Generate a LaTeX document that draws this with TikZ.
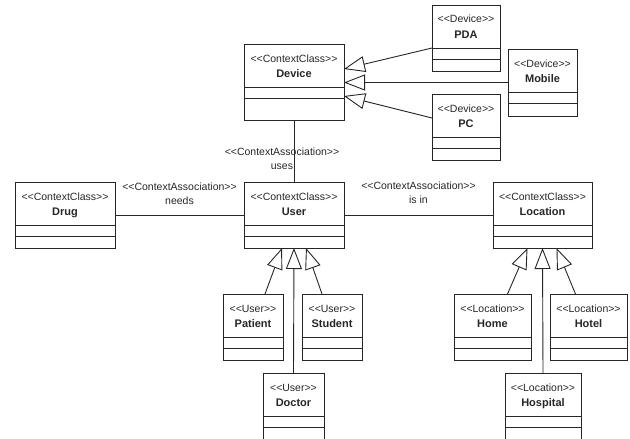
\documentclass[tikz,border=0pt]{standalone}
\usepackage{fontspec}
\setmainfont{Liberation Sans}
\usetikzlibrary{arrows.meta}

\newcommand{\st}[1]{<{}<#1>{}>}
\newcommand{\umlclass}[6]{%
\node[classbox, minimum width=#3, minimum height=#4, anchor=north west] (#1) at #2 {};
\node[stereo, anchor=base] at ([yshift=-18pt]#1.north) {\st{#5}};
\node[clsname, anchor=base] at ([yshift=-33pt]#1.north) {#6};
\draw ([yshift=-43pt]#1.north west) -- ([yshift=-43pt]#1.north east);
\draw ([yshift=-54pt]#1.north west) -- ([yshift=-54pt]#1.north east);
}

\begin{document}
\begin{tikzpicture}[x=1pt, y=-1pt, line width=0.9pt, color=black!85,
  classbox/.style={draw, rectangle, inner sep=0pt, outer sep=0pt},
  stereo/.style={font=\fontsize{10.5}{12}\selectfont, inner sep=0pt},
  clsname/.style={font=\fontsize{11}{13}\selectfont\bfseries, inner sep=0pt},
  gen/.style={-{Triangle[open,length=21pt,width=16pt]}},
  assoc/.style={font=\fontsize{10.5}{14}\selectfont, align=center, inner sep=0pt}]
\useasboundingbox (0,0) rectangle (630,439);
\clip (0,0) rectangle (630,439);

\umlclass{device}{(244,44)}{100pt}{76pt}{ContextClass}{Device}
\umlclass{pda}{(432,5)}{68pt}{66pt}{Device}{PDA}
\umlclass{mobile}{(508,49)}{69pt}{67pt}{Device}{Mobile}
\umlclass{pc}{(432,94)}{68pt}{66pt}{Device}{PC}
\umlclass{drug}{(15,182)}{100pt}{66pt}{ContextClass}{Drug}
\umlclass{user}{(244,182)}{100pt}{66pt}{ContextClass}{User}
\umlclass{location}{(493,182)}{99pt}{66pt}{ContextClass}{Location}
\umlclass{patient}{(223,294)}{60pt}{66pt}{User}{Patient}
\umlclass{student}{(302,294)}{60pt}{66pt}{User}{Student}
\umlclass{doctor}{(263,373)}{61pt}{80pt}{User}{Doctor}
\umlclass{home}{(454,294)}{77pt}{66pt}{Location}{Home}
\umlclass{hotel}{(550,294)}{77pt}{66pt}{Location}{Hotel}
\umlclass{hospital}{(505,373)}{76pt}{80pt}{Location}{Hospital}

% associations
\draw (device.south) -- node[assoc, xshift=-12pt, yshift=-8pt] {\st{ContextAssociation}\\uses} (user.north);
\draw (drug.east) -- node[assoc, yshift=21pt] {\st{ContextAssociation}\\needs} (user.west);
\draw (user.east) -- node[assoc, yshift=22pt] {\st{ContextAssociation}\\is in} (location.west);

% generalizations
\draw[gen] ([yshift=23pt]pda.south west) -- ([yshift=13pt]device.east);
\draw[gen] (mobile.west) -- (device.east |- mobile.west);
\draw[gen] ([yshift=9pt]pc.west) -- ([yshift=-14pt]device.east);
\draw[gen] ([xshift=12pt]patient.north) -- ([xshift=-12pt]user.south);
\draw[gen] (doctor.north) -- (user.south);
\draw[gen] ([xshift=-10pt]student.north) -- ([xshift=12pt]user.south);
\draw[gen] ([xshift=15pt]home.north) -- ([xshift=-15pt]location.south);
\draw[gen] (hospital.north) -- (location.south);
\draw[gen] ([xshift=-13pt]hotel.north) -- ([xshift=14pt]location.south);
\end{tikzpicture}
\end{document}
